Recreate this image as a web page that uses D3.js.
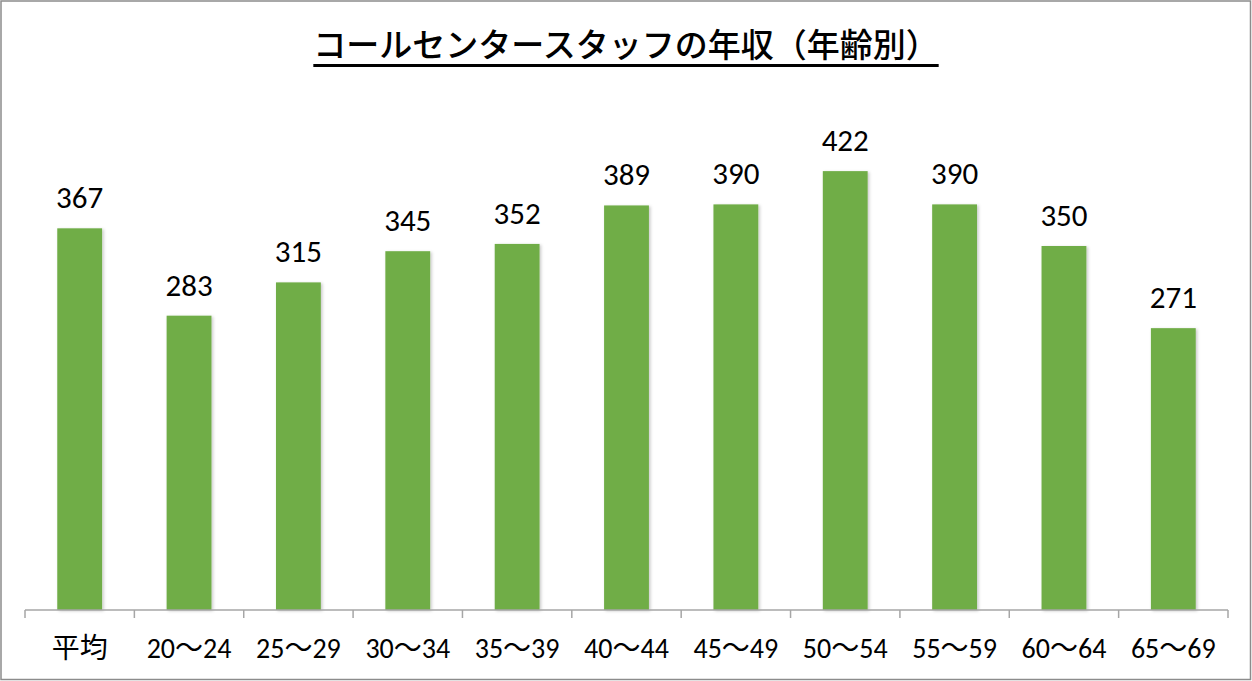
<!DOCTYPE html>
<html><head><meta charset="utf-8">
<script src="https://cdn.jsdelivr.net/npm/d3@7"></script>
<style>html,body{margin:0;padding:0;background:#fff;}svg{display:block;}</style>
</head><body>
<svg id="chart" width="1252" height="681"></svg>
<script>
const title = "コールセンタースタッフの年収（年齢別）";
const categories = ["平均","20〜24","25〜29","30〜34","35〜39","40〜44","45〜49","50〜54","55〜59","60〜64","65〜69"];
const values = [367,283,315,345,352,389,390,422,390,350,271];
const yDomain = [0,500];

const svg = d3.select("#chart");
const W = 1252, H = 681;
svg.append("rect").attr("x",1).attr("y",1).attr("width",W-2.5).attr("height",H-2.5)
  .attr("fill","#fff").attr("stroke","#8c8c8c").attr("stroke-width",1.5);

const defs = svg.append("defs");
const f = defs.append("filter").attr("id","sh").attr("x","-20%").attr("y","-5%").attr("width","150%").attr("height","115%");
f.append("feDropShadow").attr("dx",1.5).attr("dy",1).attr("stdDeviation",1.5).attr("flood-color","#000").attr("flood-opacity",0.22);

const x = d3.scaleBand().domain(categories).range([25,1228]).padding(0);
const xb = d3.scaleBand().domain(categories).range([25,1228]).paddingInner(0.59).paddingOuter(0.295);
const y = d3.scaleLinear().domain(yDomain).range([610,90]);

// title
const t = svg.append("text").attr("x",W/2).attr("y",57).attr("text-anchor","middle")
  .attr("font-family","'Noto Sans CJK JP'").attr("font-size",33).attr("font-weight",500).attr("fill","#000").text(title);
const bb = t.node().getBBox();
svg.append("line").attr("x1",bb.x).attr("x2",bb.x+bb.width).attr("y1",65.5).attr("y2",65.5).attr("stroke","#000").attr("stroke-width",3);

// bars
svg.append("g").selectAll("rect").data(values).join("rect")
  .attr("x",(d,i)=>xb(categories[i])).attr("width",xb.bandwidth())
  .attr("y",d=>y(d)).attr("height",d=>y(0)-y(d))
  .attr("fill","#70AD47").attr("filter","url(#sh)");

// value labels
svg.append("g").selectAll("text").data(values).join("text")
  .attr("x",(d,i)=>x(categories[i])+x.bandwidth()/2).attr("y",d=>y(d)-20)
  .attr("text-anchor","middle").attr("font-family","Carlito, Lato, 'Noto Sans CJK JP'")
  .attr("font-size",31).attr("fill","#000").text(d=>d);

// axis
const ax = d3.axisBottom(x).tickSize(0).tickPadding(0).tickFormat("");
const g = svg.append("g").attr("transform","translate(0,610)").call(ax);
g.select(".domain").attr("stroke","#a6a6a6").attr("stroke-width",1.5).attr("d","M25,0H1228");
const bounds = categories.map(c=>x(c)).concat([x(categories[categories.length-1])+x.bandwidth()]);
g.selectAll(".bt").data(bounds).join("line").attr("class","bt")
  .attr("x1",d=>d).attr("x2",d=>d).attr("y1",0).attr("y2",8).attr("stroke","#a6a6a6").attr("stroke-width",1.5);
g.selectAll(".lb").data(categories).join("text").attr("class","lb")
  .attr("x",d=>x(d)+x.bandwidth()/2).attr("y",48).attr("text-anchor","middle")
  .attr("font-family","Carlito, Lato, 'Noto Sans CJK JP'").attr("font-size",28).attr("fill","#000").text(d=>d);
</script>
</body></html>
